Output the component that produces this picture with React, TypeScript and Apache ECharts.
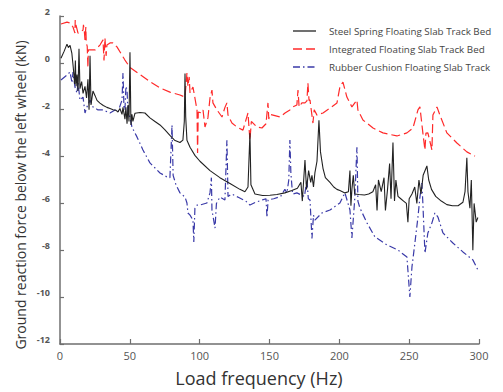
import React, { useEffect, useRef } from "react";
import * as echarts from "echarts";

const xTicks = [0, 50, 100, 150, 200, 250, 300];
const yTicks = [2, 0, -2, -4, -6, -8, -10, -12];

const seriesNames = [
  "Steel Spring Floating Slab Track Bed",
  "Integrated Floating Slab Track Bed",
  "Rubber Cushion Floating Slab Track",
];
const seriesColors = ["#222222", "#ff2a2a", "#3a3aa8"];
const seriesDash: (number[] | null)[] = [null, [9, 4], [7, 3, 1.5, 3]];

// [frequency (Hz), force (kN)]
const steelSpring: [number, number][] = [
  [0.7, 0.2], [3, 0.5], [5, 0.8], [6, 0.65], [7.2, 0.75], [8.5, 0.4], [9.5, -0.2], [10.5, -0.9], [11, 0.1], [11.5, -1.0],
  [12.2, -0.5], [12.9, -1.2], [13.6, 0.6], [14.3, -1.1], [15.5, -0.8], [16.5, -1.3], [17.9, -1.0], [19, -1.5], [20, -0.7],
  [20.8, -2.0], [21.5, 0.3], [22.2, -1.8], [23.6, -1.2], [25.1, -1.4], [26.5, -1.6], [28.6, -1.72], [31, -1.82], [33.6, -1.9],
  [35.8, -1.95], [38, -2.0], [40, -2.02], [41.5, -2.1], [42.9, -1.95], [44.4, -2.2], [45.1, -1.9], [46.5, -2.4], [47.2, -1.9],
  [48, -2.6], [48.7, -1.8], [49.4, -2.5], [50.1, 0.45], [50.8, -2.65], [51.5, -2.2], [52.2, -2.5], [53.7, -2.15], [57.3, -2.12],
  [60.8, -2.14], [64.4, -2.35], [68, -2.5], [71.6, -2.65], [75, -2.85], [78.7, -3.1], [82, -3.3], [85.9, -3.4], [88, -3.3],
  [89, -2.5], [89.5, -0.45], [90, -2.3], [90.9, -3.3], [93.1, -3.6], [96.6, -3.95], [100.2, -4.2], [107.4, -4.6], [114.5, -4.9],
  [121.7, -5.15], [128.8, -5.4], [132.4, -5.5], [134.6, -5.3], [136, -3.0], [136.7, -5.2], [139.6, -5.6], [145, -5.66],
  [150.3, -5.65], [155.3, -5.62], [161, -5.55], [166, -5.45], [170, -5.35], [172.5, -5.1], [173.5, -5.9], [175.4, -4.15],
  [176.5, -5.4], [178, -4.6], [179.5, -5.1], [180.4, -4.8], [181.5, -5.3], [182.5, -4.7], [184, -4.2], [185.4, -2.45],
  [186.5, -3.8], [188.3, -4.5], [190, -4.9], [193.3, -5.1], [196, -5.3], [198.3, -5.4], [200.4, -5.45], [204, -5.55],
  [206.5, -5.5], [207.6, -4.6], [208.3, -6.1], [209, -5.4], [210, -4.8], [211, -5.6], [214, -5.62], [218, -5.64], [221, -5.6],
  [224, -5.5], [226, -5.2], [227, -6.3], [228, -5.0], [230, -5.5], [232, -4.9], [233, -6.3], [234.5, -5.4], [236, -4.3],
  [237, -5.8], [238.4, -3.4], [239.5, -5.9], [240.5, -5.0], [242, -5.7], [244, -5.8], [246, -5.9], [248, -6.0], [249.1, -6.8],
  [250, -5.8], [252, -5.6], [254, -5.3], [255.5, -6.0], [257, -5.0], [258.5, -5.6], [260, -4.8], [262.7, -4.4], [264, -5.0],
  [266, -5.4], [269, -5.7], [273, -5.9], [277, -6.05], [281, -6.1], [285, -6.1], [288.5, -5.95], [290, -5.5], [291.3, -4.05],
  [292.1, -5.5], [293.5, -6.2], [294.5, -5.0], [295.6, -8.0], [296.5, -6.0], [298, -6.8], [299.2, -6.6],
];

const integrated: [number, number][] = [
  [0.7, 1.66], [5, 1.74], [7.2, 1.7], [9.3, 1.53], [10.7, 1.27], [10.9, 1.83], [11.5, 1.6], [12.9, 1.27], [14.3, 1.3],
  [16.5, 1.4], [16.8, 1.62], [17.5, 1.3], [17.9, 0.98], [18.5, 1.53], [18.8, 0.85], [19.5, 0.7], [20.0, -0.2], [20.3, 0.55],
  [21.5, 0.55], [25.1, 0.55], [28.6, 0.76], [30.8, 0.98], [31.5, 0.1], [32.2, 1.06], [33, 0.3], [33.6, 0.76], [35.8, 0.85],
  [37.9, 0.85], [40.8, 0.68], [46.5, 0.12], [50.1, -0.2], [57.3, -0.5], [64.4, -0.8], [71.6, -1.07], [78.7, -1.25],
  [85.9, -1.37], [89.5, -1.46], [90.9, -0.43], [91.6, -1.0], [92.5, -0.6], [93.1, -1.29], [95.2, -1.03], [96.6, -1.5],
  [98.1, -2.01], [98.5, -3.85], [99, -2.1], [101.6, -2.14], [102.4, -2.01], [103.8, -2.74], [105.9, -2.35], [107.4, -1.5],
  [108.8, -1.16], [109.5, -1.71], [112.4, -2.01], [116, -2.31], [118.1, -1.9], [119.5, -1.71], [120.3, -2.23], [123.1, -2.57],
  [126.7, -2.74], [131, -2.87], [134.6, -2.14], [135.3, -2.74], [136, -3.3], [137, -2.5], [141, -2.74], [144.6, -2.78],
  [147.5, -2.6], [148.9, -1.71], [149.5, -2.4], [150.3, -2.2], [152.5, -2.23], [157.5, -2.31], [161.1, -2.14], [164.6, -2.01],
  [166.8, -1.88], [169.6, -1.8], [170.4, -1.16], [171.2, -1.88], [173.2, -1.71], [175.4, -1.71], [176.8, -1.62],
  [177.5, -0.86], [178.3, -1.6], [179, -1.59], [181.1, -2.57], [182, -2.0], [184, -2.23], [188.3, -2.14], [193.3, -1.93],
  [198.3, -1.71], [200.4, -1.03], [202.6, -0.82], [205.4, -1.46], [209, -1.88], [212.6, -1.59], [213.3, -2.01],
  [216.9, -2.44], [224.1, -2.78], [231.2, -2.99], [241.2, -3.12], [248.4, -2.99], [252.7, -2.78], [256.3, -2.01],
  [257.7, -1.88], [259.8, -2.99], [261.3, -3.72], [262, -3.0], [263.4, -2.99], [266.3, -3.72], [267, -2.23], [269.9, -1.88],
  [272, -2.23], [277, -2.99], [284.2, -3.42], [291.3, -3.8], [297.1, -3.98],
];

const rubberCushion: [number, number][] = [
  [0.7, -0.73], [5, -0.52], [7.2, -0.39], [8.6, -0.86], [9.3, -0.39], [10.7, -1.03], [12.2, -1.29], [12.9, -0.82],
  [14.3, -1.59], [16.5, -1.46], [17.9, -2.14], [19.3, -1.88], [21.5, -1.59], [23.6, -1.88], [27.2, -2.01], [30.8, -2.01],
  [35.8, -2.14], [39.4, -2.01], [41.5, -2.1], [44.4, -1.59], [45.1, -0.43], [45.8, -1.9], [46.5, -2.01], [47.2, -1.0],
  [48, -1.16], [48.7, -2.2], [50.1, -2.3], [51.5, -2.74], [55.1, -3.16], [59.4, -3.72], [64.4, -4.27], [71.6, -4.7],
  [76.6, -4.87], [78.7, -4.9], [80.2, -2.65], [81, -4.8], [83, -5.2], [85.9, -5.55], [89.5, -5.73], [90.9, -5.98],
  [91.6, -6.41], [93.1, -6.5], [95.2, -6.71], [95.8, -7.65], [96.6, -6.2], [98.1, -6.07], [100.2, -6.07], [105.2, -5.98],
  [107.4, -5.55], [108.4, -4.9], [108.8, -6.28], [111, -7.05], [112, -6.0], [114.5, -5.73], [118.1, -5.85], [119.5, -3.3],
  [120.3, -5.7], [123, -5.6], [128, -5.75], [133, -5.9], [136, -6.07], [140, -5.95], [145, -5.85], [147.5, -5.8],
  [148.2, -6.6], [149, -5.85], [153, -5.8], [158, -5.7], [161, -5.4], [162.5, -5.55], [163.8, -5.0], [164.6, -3.29],
  [165.3, -4.7], [166.5, -5.6], [169.6, -5.55], [175, -5.7], [176.8, -5.0], [177.8, -5.8], [179, -5.85], [180.4, -7.5],
  [181.5, -6.5], [182.5, -6.71], [187.5, -6.41], [193.3, -6.28], [200.4, -5.98], [204, -5.55], [207.6, -6.28], [209, -7.47],
  [211, -5.85], [212.6, -3.6], [213.3, -5.9], [214.7, -6.19], [219.8, -6.83], [225.5, -7.43], [234.1, -7.77], [242, -7.99],
  [248.4, -8.29], [250.5, -9.99], [252, -8.71], [254.1, -7.69], [256.3, -6.58], [257.7, -5.73], [259.1, -5.13],
  [259.8, -5.98], [261.3, -8.12], [263.4, -7.26], [266.3, -6.83], [268.4, -6.41], [270.6, -6.58], [274.2, -7.26],
  [281.3, -7.69], [288.5, -8.07], [295.6, -8.41], [299.2, -8.84],
];

const xName = "Load frequency (Hz)";
const yName = "Ground reaction force below the left wheel (kN)";

export default function App() {
  const ref = useRef<HTMLDivElement>(null);
  useEffect(() => {
    if (!ref.current) return;
    const chart = echarts.init(ref.current, undefined, { renderer: "svg" });
    const axisColor = "#6f6f6f";
    const legendGraphics: any[] = [];
    seriesNames.forEach((name, i) => {
      const cy = 31 + i * 18;
      legendGraphics.push({
        type: "line",
        shape: { x1: 293, y1: cy, x2: 316, y2: cy },
        style: {
          stroke: seriesColors[i],
          lineWidth: 1.3,
          lineDash: seriesDash[i] || undefined,
        },
      });
      legendGraphics.push({
        type: "text",
        x: 329,
        y: cy,
        style: {
          text: name,
          fill: "#444",
          fontSize: 9.8,
          fontFamily: "Open Sans",
          align: "left",
          verticalAlign: "middle",
        },
      });
    });
    chart.setOption({
      animation: false,
      backgroundColor: "#ffffff",
      grid: { left: 60, right: 24, top: 16, bottom: 48, containLabel: false },
      xAxis: {
        type: "value",
        min: 0,
        max: 300,
        interval: 50,
        splitLine: { show: false },
        axisLine: { show: true, onZero: false, lineStyle: { color: axisColor, width: 1.5 } },
        axisTick: { show: true, inside: true, length: 5, lineStyle: { color: axisColor, width: 1.2 } },
        axisLabel: {
          color: "#555",
          fontSize: 11,
          fontFamily: "Open Sans",
          margin: 6,
          customValues: xTicks,
        },
      },
      yAxis: {
        type: "value",
        min: -12,
        max: 2,
        interval: 2,
        splitLine: { show: false },
        axisLine: { show: true, onZero: false, lineStyle: { color: axisColor, width: 1.5 } },
        axisTick: { show: true, inside: true, length: 4, lineStyle: { color: axisColor, width: 1.2 } },
        axisLabel: {
          color: "#555",
          fontSize: 9,
          fontWeight: "bold",
          fontFamily: "Open Sans",
          margin: 10,
          verticalAlign: "bottom",
          customValues: yTicks,
        },
      },
      graphic: [
        ...legendGraphics,
        {
          type: "text",
          x: 259,
          y: 378,
          style: {
            text: xName,
            fill: "#333",
            fontSize: 18,
            fontFamily: "Open Sans",
            align: "center",
            verticalAlign: "middle",
          },
        },
        {
          type: "text",
          x: 20,
          y: 195,
          rotation: Math.PI / 2,
          style: {
            text: yName,
            fill: "#333",
            fontSize: 14,
            fontFamily: "Open Sans",
            align: "center",
            verticalAlign: "middle",
          },
        },
      ],
      series: [
        {
          name: seriesNames[0],
          type: "line",
          data: steelSpring,
          showSymbol: false,
          symbol: "none",
          lineStyle: { color: seriesColors[0], width: 1.1 },
          z: 3,
        },
        {
          name: seriesNames[1],
          type: "line",
          data: integrated,
          showSymbol: false,
          symbol: "none",
          lineStyle: { color: seriesColors[1], width: 1.2, type: seriesDash[1] },
          z: 2,
        },
        {
          name: seriesNames[2],
          type: "line",
          data: rubberCushion,
          showSymbol: false,
          symbol: "none",
          lineStyle: { color: seriesColors[2], width: 1.2, type: seriesDash[2] },
          z: 1,
        },
      ],
    });
    return () => chart.dispose();
  }, []);
  return <div ref={ref} style={{ width: 503, height: 392, position: "absolute", left: 0, top: 0 }} />;
}
